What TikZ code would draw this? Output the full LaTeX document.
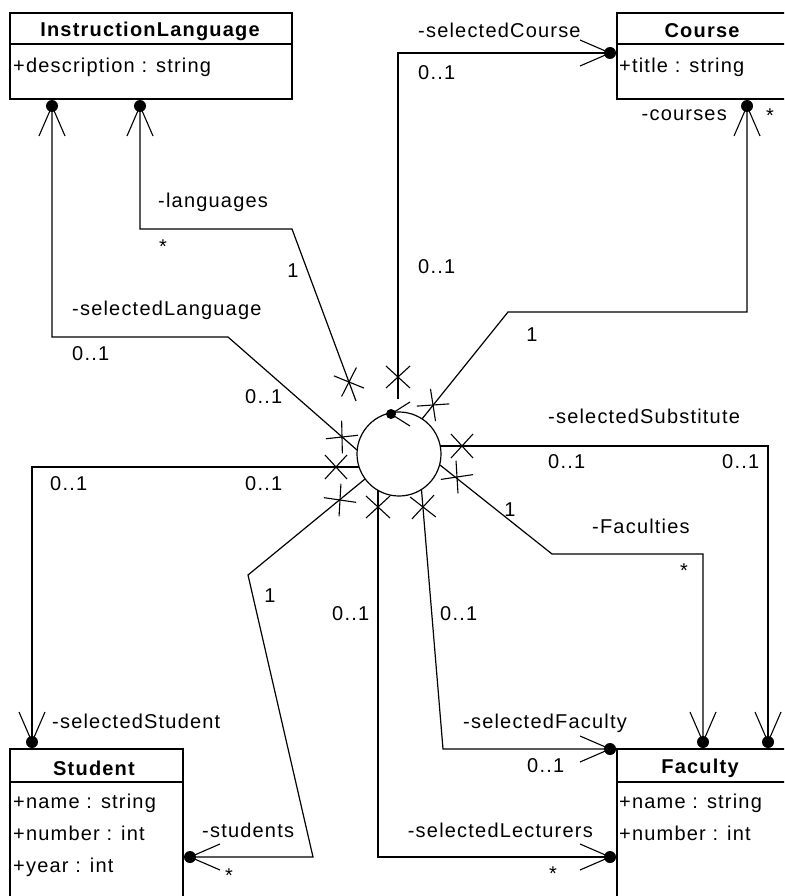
\documentclass[tikz,border=0pt]{standalone}
\usepackage{fontspec}
\setmainfont{Liberation Sans}[LetterSpace=6]
\begin{document}
\begin{tikzpicture}[x=1pt,y=-1pt,
  conn/.style={line width=1.2pt, line join=miter},
  boxline/.style={line width=1.6pt},
  lbl/.style={inner sep=0pt, yshift=-4pt, font=\fontsize{20}{24}\selectfont},
  ttl/.style={inner sep=0pt, yshift=-2pt, font=\fontsize{20}{24}\selectfont\bfseries},
  enddot/.style={circle, fill, inner sep=0pt, minimum size=12pt},
  xend/.pic={\draw[line width=1.1pt] (-11,-12) -- (11,12) (-11,12) -- (11,-12);},
  navend/.pic={\draw[line width=1.1pt] (30,-13) -- (0,0) -- (30,13);},
]
\useasboundingbox (0,0) rectangle (784,896);
\clip (0,0) rectangle (784,896);
\fill[white] (0,0) rectangle (784,896);

% ---------- classes ----------
\draw[boxline] (10,13) rectangle (292,99) (10,44) -- (292,44);
\node[ttl] (ilTitle) at (150,29) {InstructionLanguage};
\node[lbl, anchor=mid west] (ilAttr) at (13,66) {+description : string};

\draw[boxline] (617,13) rectangle (788,99) (617,44) -- (788,44);
\node[ttl] (crTitle) at (702,29) {Course};
\node[lbl, anchor=mid west] (crAttr) at (619,66) {+title : string};

\draw[boxline] (10,749) rectangle (183,905) (10,782) -- (183,782);
\node[ttl] (stTitle) at (94,766) {Student};
\node[lbl, anchor=mid west] (stAttr1) at (13,802) {+name : string};
\node[lbl, anchor=mid west] (stAttr2) at (13,834) {+number : int};
\node[lbl, anchor=mid west] (stAttr3) at (13,866) {+year : int};

\draw[boxline] (617,749) rectangle (788,905) (617,782) -- (788,782);
\node[ttl] (faTitle) at (700,766) {Faculty};
\node[lbl, anchor=mid west] (faAttr1) at (619,802) {+name : string};
\node[lbl, anchor=mid west] (faAttr2) at (619,834) {+number : int};

% ---------- hub ----------
\node[draw, circle, conn, minimum size=84pt, inner sep=0pt] (hub) at (399,454) {};
\node[enddot, minimum size=10pt] (hubdot) at (391,414) {};
\draw[line width=1.1pt] ([shift={(19,-12)}]hubdot.center) -- (hubdot.center) -- ([shift={(19,12)}]hubdot.center);

% ---------- association end dots ----------
\node[enddot] (ilA) at (52,106) {};
\node[enddot] (ilB) at (140,106) {};
\node[enddot] (crA) at (610,53) {};
\node[enddot] (crB) at (747,106) {};
\node[enddot] (faA) at (703,742) {};
\node[enddot] (faB) at (768,742) {};
\node[enddot] (faC) at (610,749) {};
\node[enddot] (faD) at (610,857) {};
\node[enddot] (stA) at (32,742) {};
\node[enddot] (stB) at (190,857) {};

% ---------- hub-side ends ----------
\coordinate (hLang) at (356,401);
\coordinate (hSelCourse) at (398,399);
\coordinate (hCourses) at (422,419);
\coordinate (hSelLang) at (357,450);
\coordinate (hSelStud) at (359,467);
\coordinate (hSelSub) at (440,446);
\coordinate (hFac) at (440,465);
\coordinate (hStud) at (365,479);
\coordinate (hLect) at (378,490);
\coordinate (hSelFac) at (421.5,490);

% ---------- associations ----------
\draw[conn] (hSelLang) -- (228,337) -| (ilA);
\draw[conn] (hLang) -- (292,229) -| (ilB);
\draw[conn] (hSelCourse) |- (crA);
\draw[conn] (hCourses) -- (508,312) -| (crB);
\draw[conn] (hSelSub) -| (faB);
\draw[conn] (hFac) -- (552,554) -| (faA);
\draw[conn] (hSelFac) -- (443,749) -- (faC);
\draw[conn] (hLect) |- (faD);
\draw[conn] (hStud) -- (248,575) -- (313,857) -- (stB);
\draw[conn] (hSelStud) -| (stA);

% ---------- navigable ends ----------
\pic[rotate=-90] at (ilA) {navend};
\pic[rotate=-90] at (ilB) {navend};
\pic[rotate=180] at (crA) {navend};
\pic[rotate=-90] at (crB) {navend};
\pic[rotate=90] at (faA) {navend};
\pic[rotate=90] at (faB) {navend};
\pic[rotate=180] at (faC) {navend};
\pic[rotate=180] at (faD) {navend};
\pic[rotate=90] at (stA) {navend};
\pic[rotate=0] at (stB) {navend};

% ---------- non-navigable ends ----------
\pic[rotate=110.4] at (349,382) {xend};
\pic[rotate=90] at (398,377) {xend};
\pic[rotate=51.4] at (433,405) {xend};
\pic[rotate=138.7] at (342,437) {xend};
\pic[rotate=180] at (336,467) {xend};
\pic[rotate=0] at (462,446) {xend};
\pic[rotate=-39] at (457,477) {xend};
\pic[rotate=-140.8] at (340,500) {xend};
\pic[rotate=-90] at (378,507) {xend};
\pic[rotate=-85.3] at (423,507) {xend};

% ---------- role names and multiplicities ----------
\node[lbl, anchor=mid west] (rSelCourse) at (418,31) {-selectedCourse};
\node[lbl, anchor=mid west] (mSelCourseA) at (418,73) {0..1};
\node[lbl, anchor=mid west] (mSelCourseB) at (418,267) {0..1};
\node[lbl, anchor=mid east] (rCourses) at (727,114) {-courses};
\node[lbl] (mCoursesA) at (770,112) {*};
\node[lbl] (mCoursesB) at (532,331) {1};
\node[lbl, anchor=mid west] (rLang) at (158,201) {-languages};
\node[lbl] (mLangA) at (163,243) {*};
\node[lbl] (mLangB) at (293,267) {1};
\node[lbl, anchor=mid west] (rSelLang) at (72,309) {-selectedLanguage};
\node[lbl, anchor=mid west] (mSelLangA) at (72,354) {0..1};
\node[lbl, anchor=mid west] (mSelLangB) at (245,397) {0..1};
\node[lbl, anchor=mid west] (mSelStudA) at (50,484) {0..1};
\node[lbl, anchor=mid west] (mSelStudB) at (245,484) {0..1};
\node[lbl, anchor=mid west] (rSelSub) at (548,417) {-selectedSubstitute};
\node[lbl, anchor=mid west] (mSelSubA) at (548,462) {0..1};
\node[lbl, anchor=mid west] (mSelSubB) at (722,462) {0..1};
\node[lbl] (mFacA) at (510,506) {1};
\node[lbl, anchor=mid west] (rFac) at (592,527) {-Faculties};
\node[lbl] (mFacB) at (684,567) {*};
\node[lbl] (mStudA) at (270,592) {1};
\node[lbl, anchor=mid west] (mLectA) at (332,614) {0..1};
\node[lbl, anchor=mid west] (mSelFacA) at (440,614) {0..1};
\node[lbl, anchor=mid west] (rSelStud) at (52,722) {-selectedStudent};
\node[lbl, anchor=mid west] (rSelFac) at (463,722) {-selectedFaculty};
\node[lbl, anchor=mid west] (mSelFacB) at (527,766) {0..1};
\node[lbl, anchor=mid west] (rStud) at (202,831) {-students};
\node[lbl] (mStudB) at (229,872) {*};
\node[lbl, anchor=mid east] (rLect) at (593,831) {-selectedLecturers};
\node[lbl] (mLectB) at (553,870) {*};
\end{tikzpicture}
\end{document}
